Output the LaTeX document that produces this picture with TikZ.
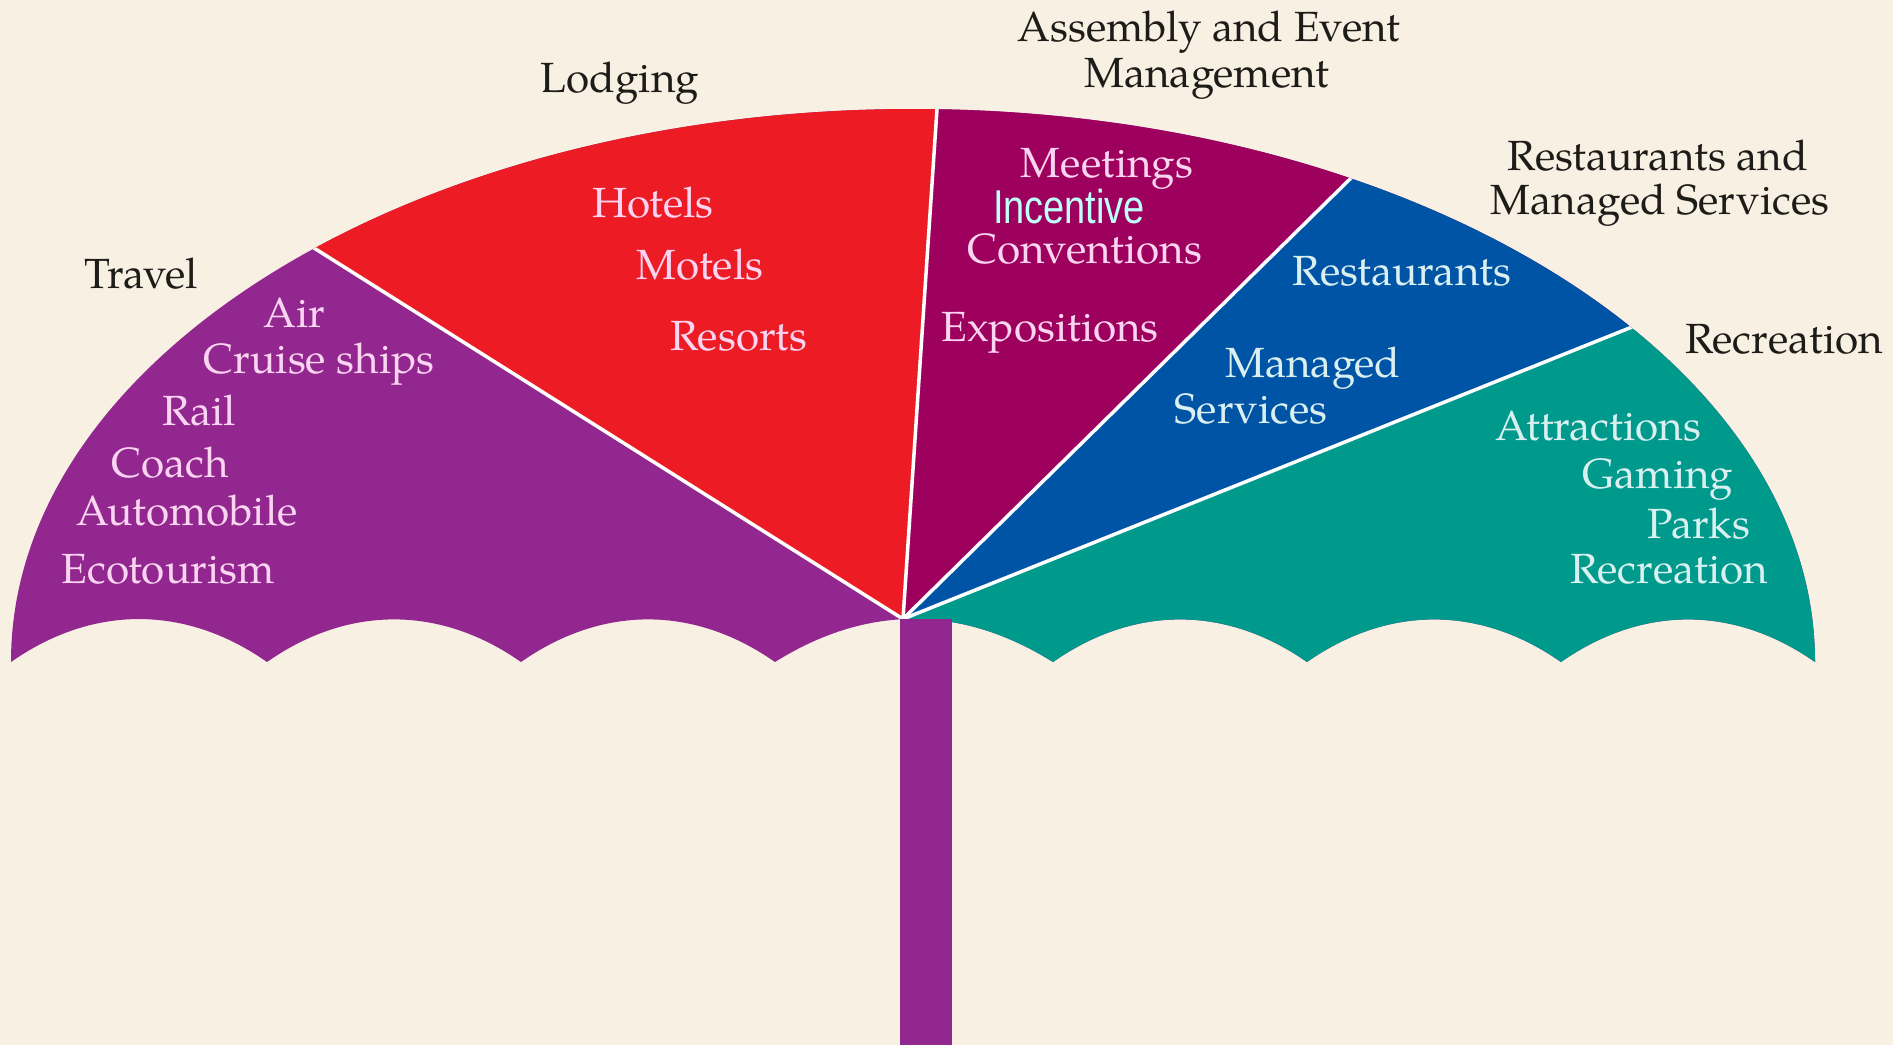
\documentclass[tikz,border=0pt]{standalone}
\usepackage{fontspec}
\setmainfont{TeX Gyre Pagella}
\newfontfamily\incfont[FakeStretch=0.8]{Liberation Sans}
\usetikzlibrary{calc,positioning}

\definecolor{paper}{RGB}{248,240,226}
\definecolor{travel}{RGB}{146,39,143}
\definecolor{lodging}{RGB}{237,28,36}
\definecolor{assembly}{RGB}{158,0,93}
\definecolor{restaurant}{RGB}{0,84,166}
\definecolor{recreation}{RGB}{0,154,140}
\definecolor{ink}{RGB}{30,28,25}
\definecolor{inkpink}{RGB}{250,212,240}
\definecolor{inkcyan}{RGB}{218,240,240}
\definecolor{incentive}{RGB}{190,255,250}

\begin{document}
\begin{tikzpicture}[x=0.01cm, y=-0.01cm,
  lbl/.style={anchor=base, inner sep=0pt, font=\fontsize{12}{14}\selectfont},
  outer/.style={lbl, text=ink},
  warm/.style={lbl, text=inkpink},
  cool/.style={lbl, text=inkcyan},
  rib/.style={white, line width=1pt}]

 \fill[paper] (0,0) rectangle (1893,1045); % background
 \useasboundingbox (0,0) rectangle (1893,1045);

 \coordinate (hub) at (903,619); % where the ribs meet
 \coordinate (tl) at (314,248);  % travel | lodging
 \coordinate (la) at (937,109);  % lodging | assembly
 \coordinate (ar) at (1350,179); % assembly | restaurants
 \coordinate (rr) at (1632,327); % restaurants | recreation

 \begin{scope}
 % canopy: scalloped rim, then the dome back over the top
 \path[clip] (11,662) to[bend left=35] (267,662) to[bend left=35] (521,662)
   to[bend left=35] (775,662) to[bend left=32] (1053,662) to[bend left=35] (1307,662)
   to[bend left=35] (1561,662) to[bend left=35] (1815,662)
   arc[start angle=0, end angle=-180, x radius=902, y radius=553] -- cycle;

 \fill[travel] (0,0) rectangle (1893,1045);
 \fill[lodging] (hub) -- ($(hub)!2!(tl)$) -- ($(hub)!2!(la)$) -- cycle;
 \fill[assembly] (hub) -- ($(hub)!2!(la)$) -- ($(hub)!2!(ar)$) -- cycle;
 \fill[restaurant] (hub) -- ($(hub)!2!(ar)$) -- ($(hub)!2!(rr)$) -- cycle;
 \fill[recreation] (hub) -- ($(hub)!2!(rr)$) -- (2400,1100) -- (903,1100) -- cycle;

 % white ribs
 \draw[rib] (hub) -- ($(hub)!1.2!(tl)$);
 \draw[rib] (hub) -- ($(hub)!1.2!(la)$);
 \draw[rib] (hub) -- ($(hub)!1.2!(ar)$);
 \draw[rib] (hub) -- ($(hub)!1.2!(rr)$);
 \end{scope}

 \fill[travel] (900,619) rectangle (952,1045); % handle

 % headings
 \node[outer] (lodging) at (620,92) {Lodging};
 \node[outer] (asm1) at (1209,41) {Assembly and Event};
 \node[outer] (asm2) at (1207,87) {Management};
 \node[outer] (rest1) at (1658,170) {Restaurants and};
 \node[outer] (rest2) at (1660,214) {Managed Services};
 \node[outer] (recr) at (1784,353) {Recreation};
 \node[outer] (travel) at (141,288) {Travel};

 % travel
 \node[warm] (air) at (294,327) {Air};
 \node[warm] (cruise) at (319,373) {Cruise ships};
 \node[warm] (rail) at (199,425) {Rail};
 \node[warm] (coach) at (170,477) {Coach};
 \node[warm] (auto) at (187,525) {Automobile};
 \node[warm] (eco) at (168,583) {Ecotourism};

 % lodging
 \node[warm] (hotels) at (653,217) {Hotels};
 \node[warm] (motels) at (700,279) {Motels};
 \node[warm] (resorts) at (739,350) {Resorts};

 % assembly
 \node[warm] (meet) at (1107,177) {Meetings};
 \node[lbl, text=incentive, font=\incfont\fontsize{13.5}{15}\selectfont] (inc) at (1069,223) {Incentive};
 \node[warm] (conv) at (1085,263) {Conventions};
 \node[warm] (expo) at (1050,341) {Expositions};

 % restaurants
 \node[cool] (rests) at (1402,285) {Restaurants};
 \node[cool] (man) at (1313,377) {Managed};
 \node[cool] (serv) at (1251,423) {Services};

 % recreation
 \node[cool] (attr) at (1598,440) {Attractions};
 \node[cool] (gaming) at (1658,488) {Gaming};
 \node[cool] (parks) at (1699,538) {Parks};
 \node[cool] (recr2) at (1669,583) {Recreation};

\end{tikzpicture}
\end{document}
